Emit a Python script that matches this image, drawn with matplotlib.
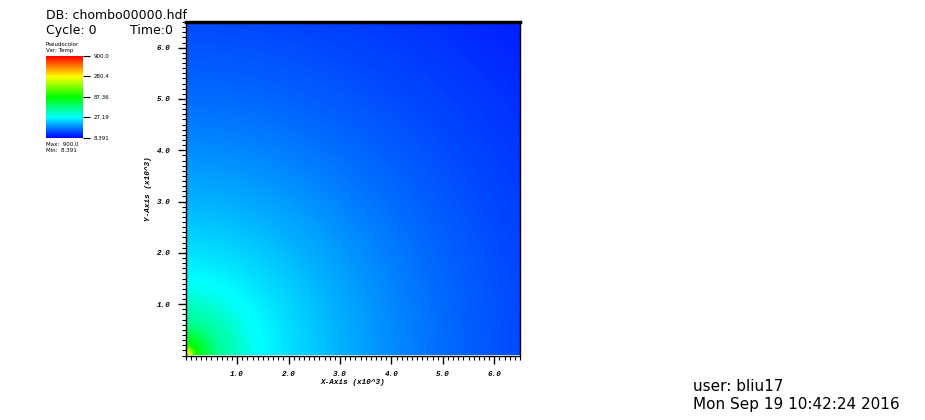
import numpy as np
import matplotlib
matplotlib.use("Agg")
import matplotlib.pyplot as plt
from matplotlib.colors import LinearSegmentedColormap, LogNorm
from matplotlib.ticker import MultipleLocator, FixedLocator

# ---- data ----
t_min, t_max = 8.391, 900.0
radius = [0.0, 0.04, 0.2, 0.6, 1.3, 2.0, 3.0, 4.0, 5.0, 6.5, 9.2]       # x10^3
temp = [900.0, 280.0, 87.0, 45.0, 28.5, 23.5, 19.0, 16.0, 13.8, 11.8, 9.7]
extent_max = 6.5
xticks = [1.0, 2.0, 3.0, 4.0, 5.0, 6.0]
yticks = [1.0, 2.0, 3.0, 4.0, 5.0, 6.0]
cbar_ticks = [8.391, 27.19, 87.36, 280.4, 900.0]
cbar_labels = ["8.391", "27.19", "87.36", "280.4", "900.0"]

cmap = LinearSegmentedColormap.from_list(
    "visit_hot", [(0, 0, 1), (0, 1, 1), (0, 1, 0), (1, 1, 0), (1, 0, 0)])
norm = LogNorm(vmin=t_min, vmax=t_max)

fig = plt.figure(figsize=(9.25, 4.2), dpi=100)
W, H = 925.0, 420.0

def rect(x0, y0, x1, y1):
    return [x0 / W, 1 - y1 / H, (x1 - x0) / W, (y1 - y0) / H]

ax = fig.add_axes(rect(185.7, 22, 520, 355.5))
n = 500
g = np.linspace(0, extent_max, n)
X, Y = np.meshgrid(g, g)
R = np.sqrt(X ** 2 + Y ** 2)
field = np.exp(np.interp(R, radius, np.log(temp)))
ax.imshow(field, origin="lower", extent=[0, extent_max, 0, extent_max],
          cmap=cmap, norm=norm, aspect="auto", interpolation="bilinear")
ax.set_xlim(0, extent_max)
ax.set_ylim(0, extent_max)

tickfont = dict(family="Liberation Mono", weight="bold", style="italic", size=5.5)
ax.xaxis.set_major_locator(FixedLocator(xticks))
ax.yaxis.set_major_locator(FixedLocator(yticks))
ax.xaxis.set_minor_locator(MultipleLocator(0.1))
ax.yaxis.set_minor_locator(MultipleLocator(0.1))
ax.set_xticklabels([f"{v:.1f}" for v in xticks], fontdict=tickfont)
ax.set_yticklabels([f"{v:.1f}" for v in yticks], fontdict=tickfont)
ax.tick_params(which="major", direction="out", length=6, width=1, color="black", pad=5)
ax.tick_params(which="minor", direction="out", length=3, width=0.8, color="black")
for s in ax.spines.values():
    s.set_color("black")
    s.set_linewidth(1)
ax.spines["top"].set_linewidth(2.5)
ax.set_xlabel("X-Axis (x10^3)", fontdict=tickfont, labelpad=1)
ax.set_ylabel("Y-Axis (x10^3)", fontdict=tickfont, labelpad=3)

# ---- legend colorbar ----
cax = fig.add_axes(rect(46, 56, 83, 138))
grad = np.logspace(np.log10(t_min), np.log10(t_max), 256).reshape(-1, 1)
cax.imshow(grad, origin="lower", aspect="auto", cmap=cmap, norm=norm,
           extent=[0, 1, np.log10(t_min), np.log10(t_max)])
cax.set_xlim(0, 1)
cax.set_ylim(np.log10(t_min), np.log10(t_max))
for s in cax.spines.values():
    s.set_visible(False)
cax.set_xticks([])
cax.yaxis.tick_right()
cax.set_yticks(np.log10(cbar_ticks))
cax.set_yticklabels(cbar_labels, fontsize=4, family="DejaVu Sans")
cax.tick_params(axis="y", length=5, width=0.8, pad=3)

sans = "DejaVu Sans"
fig.text(46 / W, 1 - 19 / H, "DB: chombo00000.hdf", fontsize=9.0, family=sans, va="baseline")
fig.text(46 / W, 1 - 34 / H, "Cycle: 0", fontsize=9.0, family=sans, va="baseline")
fig.text(130 / W, 1 - 34 / H, "Time:0", fontsize=9.0, family=sans, va="baseline")
fig.text(46 / W, 1 - 46 / H, "Pseudocolor", fontsize=4, family=sans, va="baseline")
fig.text(46 / W, 1 - 52 / H, "Var: Temp", fontsize=4, family=sans, va="baseline")
fig.text(46 / W, 1 - 146 / H, f"Max:  {t_max:.1f}", fontsize=4, family=sans, va="baseline")
fig.text(46 / W, 1 - 152 / H, f"Min:  {t_min:.3f}", fontsize=4, family=sans, va="baseline")
fig.text(693 / W, 1 - 391 / H, "user: bliu17", fontsize=11, family=sans, va="baseline")
fig.text(693 / W, 1 - 409 / H, "Mon Sep 19 10:42:24 2016", fontsize=11, family=sans, va="baseline")

fig.savefig("out.png", dpi=100, facecolor="white")
